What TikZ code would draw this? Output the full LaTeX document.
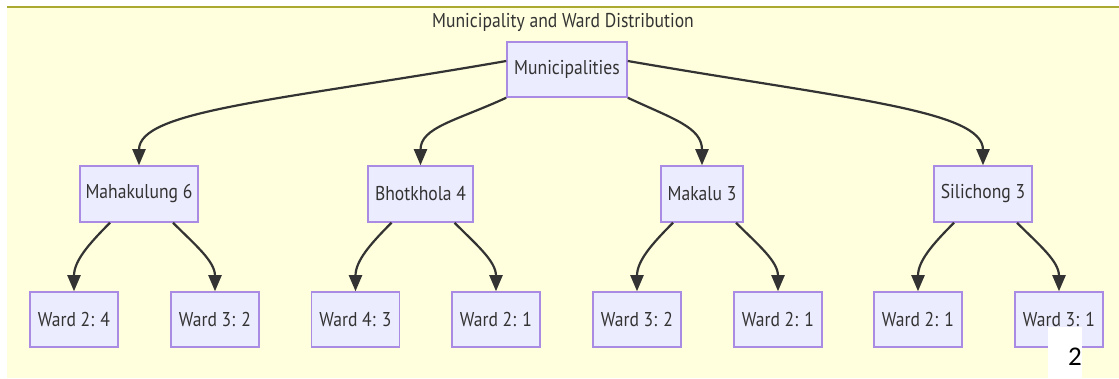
\documentclass[tikz,border=0pt]{standalone}
\usepackage{fontspec}
\setmainfont{PT Sans}[FakeStretch=0.88]
\newfontfamily\pagefont{Carlito}
\usetikzlibrary{arrows.meta}
\definecolor{bgy}{HTML}{FFFFDE}
\definecolor{bord}{HTML}{AAAA33}
\definecolor{nfill}{HTML}{ECECFF}
\definecolor{nstroke}{HTML}{A98BE3}
\definecolor{ink}{HTML}{333333}
\begin{document}
\begin{tikzpicture}[x=1pt,y=-1pt,
  box/.style={draw=nstroke, fill=nfill, line width=1.5pt, minimum height=55pt, inner sep=0pt, text=ink, font=\fontsize{20}{22}\selectfont},
  ward/.style={box, minimum width=88pt},
  arr/.style={draw=ink, line width=2.2pt, -{Triangle[length=16pt,width=13pt]}},
  titletext/.style={text=ink, font=\fontsize{20}{22}\selectfont}]
\useasboundingbox (0,0) rectangle (1119,379);
\fill[white] (0,0) rectangle (1119,379);
\fill[bgy] (7,7) rectangle (1119,378);
\draw[bord, line width=1.5pt] (7,7) -- (1119,7);
\node[titletext] (title) at (563,22) {Municipality and Ward Distribution};
% level 1
\node[box, minimum width=120pt] (mun) at (567,69.5) {Municipalities};
% level 2
\node[box, minimum width=118pt, minimum height=56pt] (mah) at (139,194) {Mahakulung 6};
\node[box, minimum width=105pt, minimum height=56pt] (bho) at (420.5,194) {Bhotkhola 4};
\node[box, minimum width=82pt, minimum height=56pt] (mak) at (702,194) {Makalu 3};
\node[box, minimum width=98pt, minimum height=56pt] (sil) at (983,194) {Silichong 3};
% level 3
\node[ward] (w1) at (74,319.5) {Ward 2: 4};
\node[ward] (w2) at (215,319.5) {Ward 3: 2};
\node[ward] (w3) at (355.5,319.5) {Ward 4: 3};
\node[ward] (w4) at (496,319.5) {Ward 2: 1};
\node[ward] (w5) at (637,319.5) {Ward 3: 2};
\node[ward] (w6) at (778,319.5) {Ward 2: 1};
\node[ward] (w7) at (918,319.5) {Ward 2: 1};
\node[ward] (w8) at (1059,319.5) {Ward 3: 1};
% top edges
\draw[arr] ([yshift=8.5pt]mun.west) .. controls +(-230,40) and +(0,-55) .. (mah.north);
\draw[arr] (mun.south west) .. controls +(-50,23) and +(0,-38) .. (bho.north);
\draw[arr] (mun.south east) .. controls +(45,21) and +(0,-38) .. (mak.north);
\draw[arr] ([yshift=8.5pt]mun.east) .. controls +(220,38) and +(0,-55) .. (sil.north);
% child edges
\foreach \p/\a/\b in {mah/w1/w2, bho/w3/w4, mak/w5/w6, sil/w7/w8}{
  \draw[arr] ([xshift=-29pt]\p.south) .. controls +(-22,22) and +(0,-30) .. (\a.north);
  \draw[arr] ([xshift=34pt]\p.south) .. controls +(22,22) and +(0,-30) .. (\b.north);
}
% page number
\fill[white] (1048,327) rectangle (1082,379);
\node[text=black, font=\pagefont\fontsize{27}{27}\selectfont, inner sep=0pt] (pg) at (1075,357) {2};
\end{tikzpicture}
\end{document}
